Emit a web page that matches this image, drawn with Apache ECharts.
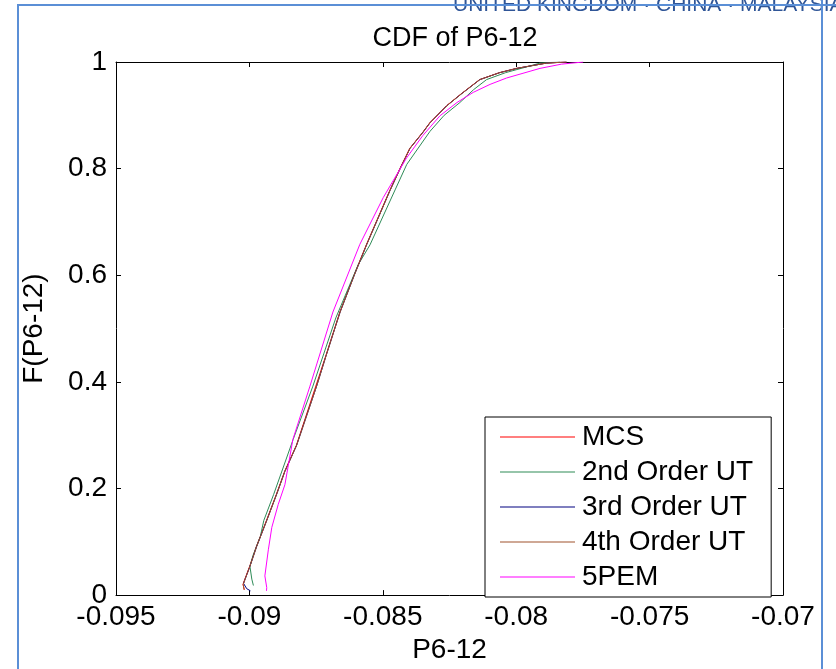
<!DOCTYPE html>
<html>
<head>
<meta charset="utf-8">
<script src="https://cdn.jsdelivr.net/npm/echarts@6/dist/echarts.min.js"></script>
<style>
  html, body { margin: 0; padding: 0; background: #fff; }
  #chart { width: 836px; height: 669px; }
</style>
</head>
<body>
<div id="chart"></div>
<script>
// empirical CDF readings, [P6-12, F]
const mcs = [
  [-0.09019, 0.010], [-0.09024, 0.020], [-0.09017, 0.030], [-0.08999, 0.054],
  [-0.08974, 0.091], [-0.08936, 0.140], [-0.08899, 0.189], [-0.08868, 0.232],
  [-0.08824, 0.281], [-0.08713, 0.450], [-0.08661, 0.531], [-0.08608, 0.600],
  [-0.08561, 0.658], [-0.08474, 0.759], [-0.08436, 0.800], [-0.08399, 0.838],
  [-0.08349, 0.869], [-0.08324, 0.886], [-0.08261, 0.918], [-0.08207, 0.940],
  [-0.08137, 0.967], [-0.08063, 0.980], [-0.07999, 0.988], [-0.07887, 0.998],
  [-0.07812, 1.000]
]
const ut2 = [
  [-0.08985, 0.018], [-0.08991, 0.030], [-0.08998, 0.054], [-0.08986, 0.075],
  [-0.08959, 0.110], [-0.08946, 0.140], [-0.08909, 0.189], [-0.08836, 0.292],
  [-0.08762, 0.392], [-0.08676, 0.520], [-0.08592, 0.620], [-0.08548, 0.657],
  [-0.08454, 0.760], [-0.08410, 0.808], [-0.08323, 0.870], [-0.08270, 0.900],
  [-0.08211, 0.924], [-0.08160, 0.948], [-0.08111, 0.967], [-0.08040, 0.980],
  [-0.07967, 0.990], [-0.07911, 0.998], [-0.07836, 1.000]
]
const ut3 = [
  [-0.08996, 0.008], [-0.09010, 0.012], [-0.09022, 0.022], [-0.09016, 0.030],
  [-0.08998, 0.054], [-0.08973, 0.091], [-0.08935, 0.140], [-0.08898, 0.189],
  [-0.08867, 0.232], [-0.08823, 0.281], [-0.08748, 0.392], [-0.08712, 0.450],
  [-0.08660, 0.531], [-0.08607, 0.600], [-0.08560, 0.658], [-0.08473, 0.759],
  [-0.08435, 0.800], [-0.08398, 0.838], [-0.08348, 0.869], [-0.08323, 0.886],
  [-0.08260, 0.918], [-0.08206, 0.940], [-0.08136, 0.967], [-0.08062, 0.980],
  [-0.07998, 0.988], [-0.07886, 0.998], [-0.07811, 1.000]
]
const ut4 = [
  [-0.09020, 0.010], [-0.09023, 0.020], [-0.09016, 0.030], [-0.08998, 0.054],
  [-0.08973, 0.091], [-0.08935, 0.140], [-0.08898, 0.189], [-0.08867, 0.232],
  [-0.08823, 0.281], [-0.08748, 0.392], [-0.08712, 0.450], [-0.08660, 0.531],
  [-0.08607, 0.600], [-0.08560, 0.658], [-0.08473, 0.759], [-0.08435, 0.800],
  [-0.08398, 0.838], [-0.08348, 0.869], [-0.08323, 0.886], [-0.08260, 0.918],
  [-0.08206, 0.940], [-0.08136, 0.967], [-0.08062, 0.980], [-0.07998, 0.988],
  [-0.07886, 0.998], [-0.07811, 1.000]
]
const pem5 = [
  [-0.08936, 0.008], [-0.08935, 0.014], [-0.08942, 0.036], [-0.08929, 0.085],
  [-0.08916, 0.127], [-0.08892, 0.170], [-0.08867, 0.207], [-0.08837, 0.292],
  [-0.08773, 0.392], [-0.08687, 0.531], [-0.08586, 0.658], [-0.08498, 0.746],
  [-0.08411, 0.820], [-0.08350, 0.862], [-0.08286, 0.899], [-0.08222, 0.924],
  [-0.08161, 0.943], [-0.08098, 0.958], [-0.08036, 0.970], [-0.07911, 0.988],
  [-0.07830, 0.996], [-0.07749, 1.000]
]

const names = ['MCS', '2nd Order UT', '3rd Order UT', '4th Order UT', '5PEM']
const COLORS = ['#ff0000', '#2e8b57', '#000080', '#a0522d', '#ff00ff']
const seriesData = [mcs, ut2, ut3, ut4, pem5]

const X_MIN = -0.095, X_MAX = -0.07, X_STEP = 0.005
const Y_MIN = 0, Y_MAX = 1, Y_STEP = 0.2

const FONT = 'Liberation Sans, Arial, sans-serif'
const TXT = { color: '#000', fontFamily: FONT, fontSize: 28 }

const chart = echarts.init(document.getElementById('chart'), null, { renderer: 'canvas' })

const tick = { show: true, inside: true, length: 5, lineStyle: { color: '#000' } }
const line = { show: true, onZero: false, lineStyle: { color: '#000', width: 1 } }

chart.setOption({
  animation: false,
  color: COLORS,
  title: {
    text: 'CDF of P6-12',
    left: 450, top: 20, textAlign: 'center',
    textStyle: { ...TXT, fontSize: 27, fontWeight: 'normal' },
  },
  legend: {
    orient: 'vertical',
    left: 485, top: 417,
    data: names,
    icon: 'rect',
    itemWidth: 75, itemHeight: 1, itemGap: 7,
    padding: [6, 18, 6, 15],
    borderColor: '#000', borderWidth: 1,
    backgroundColor: '#fff',
    textStyle: { ...TXT, lineHeight: 28, padding: [0, 0, 0, 2] },
  },
  grid: { left: 116, right: 53, top: 62, bottom: 63 },
  xAxis: [
    {
      type: 'value', min: X_MIN, max: X_MAX, interval: X_STEP,
      name: 'P6-12', nameLocation: 'middle', nameGap: 36, nameTextStyle: TXT,
      axisLine: line, axisTick: tick, splitLine: { show: false },
      axisLabel: { ...TXT, margin: 8 },
    },
    {
      type: 'value', position: 'top', min: X_MIN, max: X_MAX, interval: X_STEP,
      axisLine: line, axisTick: tick, splitLine: { show: false },
      axisLabel: { show: false },
    },
  ],
  yAxis: [
    {
      type: 'value', min: Y_MIN, max: Y_MAX, interval: Y_STEP,
      name: 'F(P6-12)', nameLocation: 'middle', nameGap: 68, nameTextStyle: TXT,
      axisLine: line, axisTick: tick, splitLine: { show: false },
      axisLabel: { ...TXT, margin: 9 },
    },
    {
      type: 'value', position: 'right', min: Y_MIN, max: Y_MAX, interval: Y_STEP,
      axisLine: line, axisTick: tick, splitLine: { show: false },
      axisLabel: { show: false },
    },
  ],
  series: seriesData.map((d, i) => ({
    name: names[i], type: 'line', data: d,
    symbol: 'none', showSymbol: false,
    lineStyle: { width: 1, color: COLORS[i] },
    itemStyle: { color: COLORS[i] },
  })),
  graphic: [
    { type: 'polyline', shape: { points: [[18, 669], [18, 5], [836, 5]] },
      style: { stroke: '#5b8fd6', lineWidth: 2, fill: null }, z: 10 },
    { type: 'polyline', shape: { points: [[822, 0], [822, 669]] },
      style: { stroke: '#5b8fd6', lineWidth: 2, fill: null }, z: 10 },
    { type: 'text', x: 453, y: 16,
      style: { text: 'UNITED KINGDOM · CHINA · MALAYSIA', fill: '#2f5597',
        font: '21px ' + FONT, verticalAlign: 'bottom' }, z: 9 },
  ],
})
</script>
</body>
</html>
